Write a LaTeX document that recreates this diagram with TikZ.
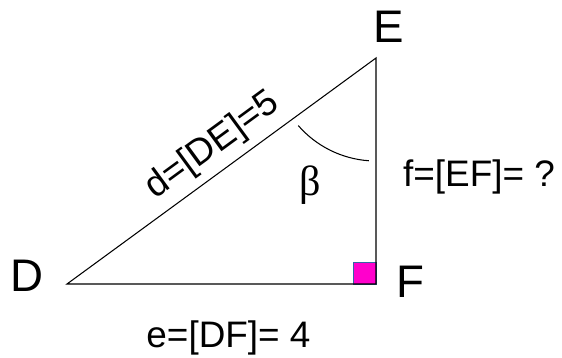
\documentclass[tikz,border=0pt]{standalone}
\usepackage{fontspec}
\setmainfont{Liberation Sans}
\newfontfamily\betafont{Liberation Serif}
\usetikzlibrary{positioning}
\definecolor{rightpink}{RGB}{255,0,204}
\definecolor{rightedge}{RGB}{52,101,164}

\begin{document}
\begin{tikzpicture}[x=0.02cm,y=0.02cm]
  \tikzstyle{side}=[line width=0.6pt,black]
  \tikzstyle{vertex}=[inner sep=0pt,font=\fontsize{26}{30}\selectfont]
  \tikzstyle{lbl}=[inner sep=0pt,font=\fontsize{21}{25}\selectfont]
  \useasboundingbox (0,0) rectangle (562,358);
  \coordinate (D) at (67,74);
  \coordinate (E) at (376,300);
  \coordinate (F) at (376,74);
  % right angle at F
  \filldraw[fill=rightpink,draw=rightedge,line width=0.4pt] (F) rectangle ++(-23,22);
  \draw[side] (D) -- (E) -- (F) -- cycle;
  % angle beta at E
  \draw[side] ([shift={(221:103)}]E) arc (221:266:103);
  \node[vertex] (lblE) at (389,331) {E};
  \node[vertex] (lblD) at (27,82) {D};
  \node[vertex] (lblF) at (410,76) {F};
  \node[lbl,rotate=36.2] (lblDE) at (213,212) {d=[DE]=5};
  \node[lbl,anchor=base] (lblEF) at (479,171) {f=[EF]= ?};
  \node[lbl,anchor=base] (lblDF) at (228.5,10) {e=[DF]= 4};
  \node[inner sep=0pt,font=\betafont\fontsize{24}{28}\selectfont] (beta) at (310,173) {β};
\end{tikzpicture}
\end{document}
